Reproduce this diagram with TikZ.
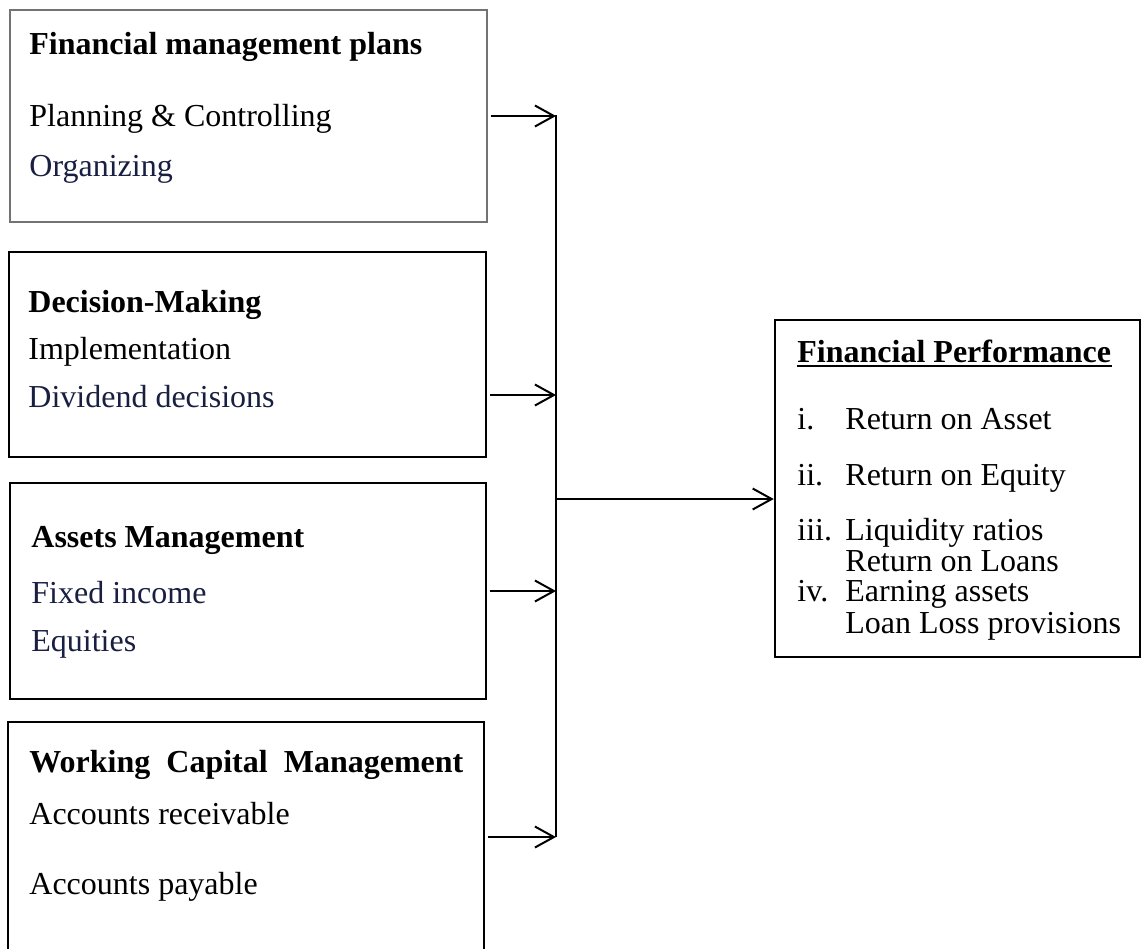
\documentclass[tikz,border=0pt]{standalone}
\usepackage{fontspec}
\setmainfont{Liberation Serif}
\usetikzlibrary{arrows.meta,fit}

\definecolor{inkblue}{RGB}{24,31,64}
\tikzset{
    block/.style={draw, line width=1.25pt, inner sep=0pt},
    thinblock/.style={draw=black!55, line width=0.6pt, inner sep=0pt},
    line/.style={anchor=base west, inner sep=0pt},
    head/.style={line, execute at begin node=\bfseries},
    inkline/.style={line, text=inkblue},
    feed/.style={-{Straight Barb[length=9.5pt,width=10.5pt]}, line width=1pt},
}

\begin{document}
\begin{tikzpicture}[x=0.5pt, y=-0.5pt, font=\fontsize{16}{19}\selectfont]
    \clip (0,0) rectangle (1143,948);

    \node[thinblock, fit={(10,10) (487,222)}] (plans) {};
    \node[head] (planshead) at (29,54) {Financial management plans};
    \node[line] (planning) at (29,126) {Planning \& Controlling};
    \node[inkline] (organizing) at (29,176) {Organizing};

    \node[block, fit={(9,252) (486,457)}] (decision) {};
    \node[head] (decisionhead) at (28,312) {Decision-Making};
    \node[line] (implementation) at (28,359) {Implementation};
    \node[inkline] (dividend) at (28,407) {Dividend decisions};

    \node[block, fit={(10,483) (486,699)}] (assets) {};
    \node[head] (assetshead) at (31,547) {Assets Management};
    \node[inkline] (fixedincome) at (31,603) {Fixed income};
    \node[inkline] (equities) at (31,651) {Equities};

    \node[block, fit={(8,722) (484,952)}] (capital) {};
    \node[head] (capitalhead) at (29,772) {\makebox[217pt][s]{Working Capital Management}};
    \node[line] (receivable) at (29,824) {Accounts receivable};
    \node[line] (payable) at (29,894) {Accounts payable};

    \node[block, fit={(775,320) (1140,657)}] (perf) {};
    \node[head] (perfhead) at (797,362) {Financial Performance};
    \draw[line width=1pt] ([yshift=-2.2pt]perfhead.base west) -- ([yshift=-2.2pt]perfhead.base east);
    \node[line] (n1) at (797,429) {i.};
    \node[line] (roa) at (845,429) {Return on Asset};
    \node[line] (n2) at (797,485) {ii.};
    \node[line] (roe) at (845,485) {Return on Equity};
    \node[line] (n3) at (797,540) {iii.};
    \node[line] (liquidity) at (845,540) {Liquidity ratios};
    \node[line] (rol) at (845,571) {Return on Loans};
    \node[line] (n4) at (797,601) {iv.};
    \node[line] (earning) at (845,601) {Earning assets};
    \node[line] (loanloss) at (845,633) {Loan Loss provisions};

    \coordinate (spinetop) at (556,115);
    \coordinate (spinebot) at (556,837);
    \draw[line width=1.25pt] (spinetop) -- (spinebot);
    \foreach \b/\dy in {plans/0, decision/-20.25, assets/0, capital/0}
        \draw[feed] ([xshift=1.5pt, yshift=\dy pt]\b.east) -- ([yshift=\dy pt]\b.east -| spinetop);
    \draw[feed] ([yshift=-5.25pt]perf.west -| spinetop) -- ([yshift=-5.25pt]perf.west);
\end{tikzpicture}
\end{document}
